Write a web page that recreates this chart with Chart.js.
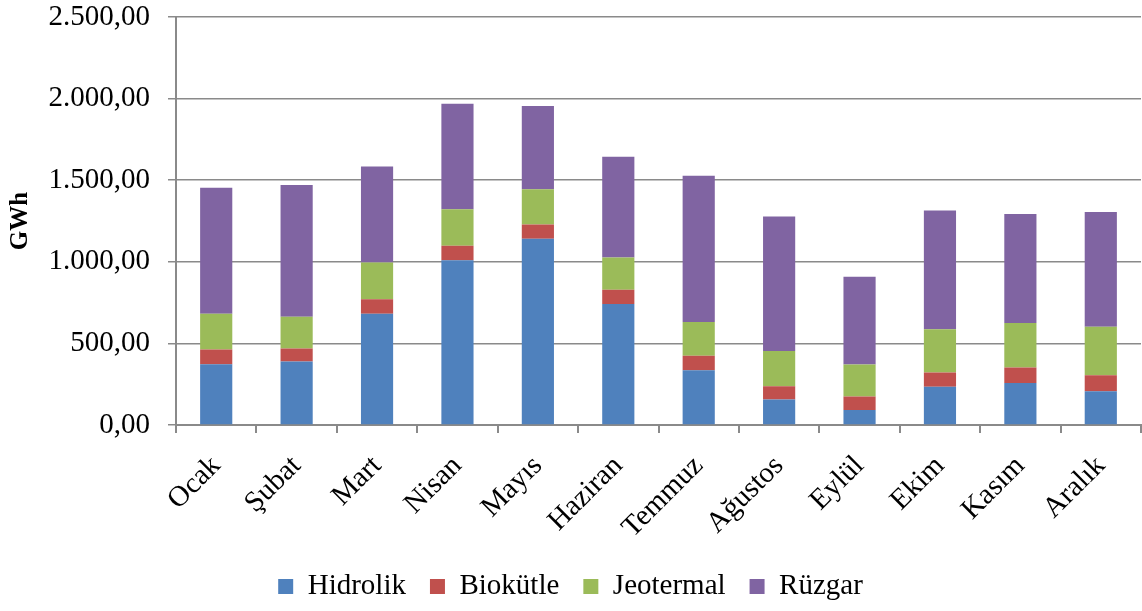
<!DOCTYPE html>
<html>
<head>
<meta charset="utf-8">
<script src="https://cdn.jsdelivr.net/npm/chart.js@4/dist/chart.umd.min.js"></script>
<style>
html,body{margin:0;padding:0;background:#fff;}
#wrap{width:1142px;height:611px;position:relative;}
</style>
</head>
<body>
<div id="wrap"><canvas id="c" width="1142" height="611"></canvas></div>
<script>
const months = ["Ocak","Şubat","Mart","Nisan","Mayıs","Haziran","Temmuz","Ağustos","Eylül","Ekim","Kasım","Aralık"];
const hidrolik = [373,389,682,1010,1141,742,336,156,92,234,258,207];
const biokutle = [90,80,88,88,88,86,88,82,82,88,94,98];
const jeotermal = [219,195,226,224,216,199,207,215,197,264,273,297];
const ruzgar = [771,807,588,647,510,616,896,824,537,729,668,703];
const yTicks = [0,500,1000,1500,2000,2500];

function fmt(v){
  const s = Math.round(v).toString().replace(/\B(?=(\d{3})+(?!\d))/g, ".");
  return s + ",00";
}
const FONT = "'Liberation Serif','Times New Roman',serif";
const GRID = "#8a8a8a";

new Chart(document.getElementById('c'), {
  type: 'bar',
  data: {
    labels: months,
    datasets: [
      {label:'Hidrolik', data:hidrolik, backgroundColor:'#4F81BD'},
      {label:'Biokütle', data:biokutle, backgroundColor:'#C0504D'},
      {label:'Jeotermal', data:jeotermal, backgroundColor:'#9BBB59'},
      {label:'Rüzgar', data:ruzgar, backgroundColor:'#8064A2'}
    ]
  },
  options: {
    responsive:false,
    animation:false,
    devicePixelRatio:1,
    layout:{padding:{top:0,right:1,left:0,bottom:0}},
    datasets:{bar:{barPercentage:0.4,categoryPercentage:1.0,borderWidth:0}},
    plugins:{
      legend:{
        position:'bottom',
        labels:{font:{family:FONT,size:29},color:'#000',boxWidth:15,boxHeight:15,padding:24}
      },
      tooltip:{enabled:false}
    },
    scales:{
      x:{
        stacked:true,
        offset:true,
        grid:{display:true,drawOnChartArea:false,drawTicks:true,tickLength:8,color:GRID,lineWidth:2,offset:true},
        border:{display:true,color:GRID,width:2},
        ticks:{font:{family:FONT,size:29},color:'#000',minRotation:45,maxRotation:45,padding:16,autoSkip:false},
        afterFit:(s)=>{s.height=123;}
      },
      y:{
        stacked:true,
        min:0,max:2500,
        afterBuildTicks:(s)=>{s.ticks = yTicks.map(v=>({value:v}));},
        grid:{color:GRID,lineWidth:1.5,drawTicks:true,tickLength:8},
        border:{display:true,color:GRID,width:2},
        ticks:{font:{family:FONT,size:29},color:'#000',padding:18,callback:(v)=>fmt(v)},
        title:{display:true,text:'GWh',font:{family:FONT,size:25,weight:'bold'},color:'#000',padding:{top:6,bottom:0}},
        afterFit:(s)=>{s.width=176;s.paddingTop=17;s.paddingBottom=0;}
      }
    }
  }
});
</script>
</body>
</html>
